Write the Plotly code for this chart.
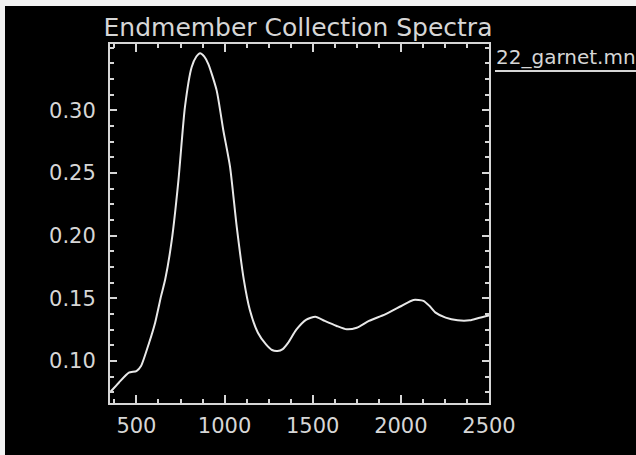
import plotly.graph_objects as go

wavelength = [350, 400, 457, 500, 526, 572, 606, 640, 663, 700, 738, 775, 813, 840, 861, 885, 908,
              955, 993, 1031, 1069, 1109, 1143, 1189, 1235, 1269, 1300, 1330, 1360, 1407, 1464, 1515,
              1568, 1636, 1693, 1750, 1819, 1911, 2003, 2071, 2128, 2163, 2197, 2254, 2322, 2391, 2447, 2500]
reflectance = [0.075, 0.0827, 0.0907, 0.092, 0.096, 0.1146, 0.1306, 0.152, 0.165, 0.196, 0.244, 0.3026,
               0.3345, 0.343, 0.3457, 0.343, 0.337, 0.316, 0.284, 0.255, 0.207, 0.165, 0.141, 0.1226,
               0.1133, 0.1088, 0.108, 0.1095, 0.1145, 0.125, 0.133, 0.1354, 0.132, 0.128, 0.1253, 0.1266,
               0.132, 0.1372, 0.1439, 0.1487, 0.148, 0.1439, 0.1386, 0.1346, 0.1325, 0.1325, 0.1346, 0.1364]
title_text = "Endmember Collection Spectra"
series_name = "22_garnet.mn"

FG = "#d6d6d6"
W, H = 636, 455
L, R, T, B = 110, 489, 44, 403

fig = go.Figure()
fig.add_trace(go.Scatter(x=wavelength, y=reflectance, mode="lines",
                         line=dict(color="#e8e8e8", width=2, shape="spline", smoothing=0.6),
                         showlegend=False, hoverinfo="skip"))

axis_common = dict(showgrid=False, zeroline=False, showline=True, linecolor=FG, linewidth=2,
                   mirror="ticks", ticks="inside", tickcolor=FG, tickwidth=2,
                   tickfont=dict(family="DejaVu Sans", size=21, color=FG))

fig.update_xaxes(range=[350, 2500], tickvals=[500, 1000, 1500, 2000, 2500], ticklen=8,
                 minor=dict(dtick=125, tick0=500, ticks="inside", ticklen=4, tickcolor=FG, tickwidth=2),
                 ticklabelstandoff=3, **axis_common)
fig.update_yaxes(range=[0.0665, 0.353], tickvals=[0.10, 0.15, 0.20, 0.25, 0.30],
                 ticktext=["0.10", "0.15", "0.20", "0.25", "0.30"], ticklen=7,
                 minor=dict(dtick=0.0125, tick0=0.10, ticks="inside", ticklen=4, tickcolor=FG, tickwidth=2),
                 ticklabelstandoff=8, **axis_common)

fig.update_layout(
    width=W, height=H,
    margin=dict(l=L, r=W - R, t=T, b=H - B, pad=0),
    paper_bgcolor="black", plot_bgcolor="black",
    title=dict(text=title_text, x=298 / W, xanchor="center", y=1 - 27 / H, yanchor="middle",
               font=dict(family="DejaVu Sans", size=25, color=FG)),
)

pw, ph = R - L, B - T
def px(x):
    return (x - L) / pw
def py(y):
    return (B - y) / ph

fig.add_annotation(text=series_name, xref="paper", yref="paper", x=px(494), y=py(57),
                   xanchor="left", yanchor="middle", showarrow=False,
                   font=dict(family="DejaVu Sans", size=20, color=FG))
fig.add_shape(type="line", xref="paper", yref="paper", x0=px(495), x1=px(640), y0=py(71), y1=py(71),
              line=dict(color=FG, width=2))
# light frame strips at left and top edges of the picture
fig.add_shape(type="rect", xref="paper", yref="paper", x0=px(-5), x1=px(5), y0=py(460), y1=py(-5),
              line=dict(width=0), fillcolor="#f2f2f2", layer="above")
fig.add_shape(type="rect", xref="paper", yref="paper", x0=px(-5), x1=px(640), y0=py(6), y1=py(-5),
              line=dict(width=0), fillcolor="#f2f2f2", layer="above")

fig.write_html("out.html")
